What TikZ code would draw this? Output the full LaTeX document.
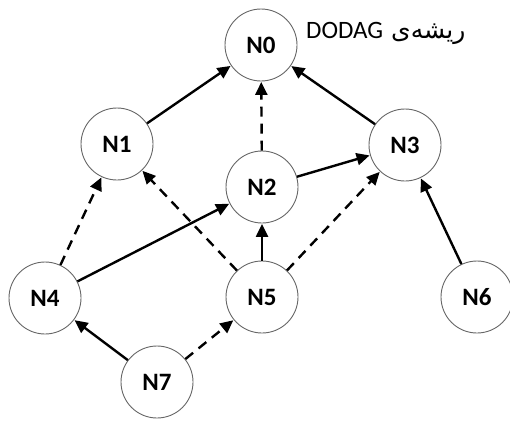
\documentclass[tikz,border=0pt]{standalone}
\usepackage{fontspec}
\setmainfont{Carlito}
\newfontfamily\arabicfont[Script=Arabic]{DejaVu Sans}
\TeXXeTstate=1
\usetikzlibrary{arrows.meta}
\begin{document}
\begin{tikzpicture}[x=1pt,y=-1pt,
  nd/.style={circle,draw=black!60,line width=0.9pt,minimum size=72pt,inner sep=0pt,font=\fontsize{25}{28}\selectfont\bfseries},
  edge/.style={line width=2.4pt,-{Triangle[length=13pt,width=12pt]},shorten >=0.5pt},
  dedge/.style={edge,dash pattern=on 10pt off 7pt}]
\useasboundingbox (0,0) rectangle (510,421);
\node[nd] (n0) at (261,45) {N0};
\node[nd] (n1) at (117,144) {N1};
\node[nd] (n2) at (262,187) {N2};
\node[nd] (n3) at (405,145) {N3};
\node[nd] (n4) at (45,298) {N4};
\node[nd] (n5) at (262,297) {N5};
\node[nd] (n6) at (477,297) {N6};
\node[nd] (n7) at (157,382) {N7};
\node[anchor=west,inner sep=0pt,font=\fontsize{25}{28}\selectfont] (lbl) at (306,33) {\arabicfont\beginR ریشه‌ی \beginL{\fontspec{Carlito}DODAG}\endL\endR};
\draw[edge] (n1) -- (n0);
\draw[edge] (n3) -- (n0);
\draw[dedge] (n2) -- (n0);
\draw[edge] (n2) -- (n3);
\draw[edge] (n4) -- (n2);
\draw[edge] (n5) -- (n2);
\draw[edge] (n6) -- (n3);
\draw[edge] (n7) -- (n4);
\draw[dedge] (n4) -- (n1);
\draw[dedge] (n5) -- (n1);
\draw[dedge] (n5) -- (n3);
\draw[dedge] (n7) -- (n5);
\end{tikzpicture}
\end{document}
